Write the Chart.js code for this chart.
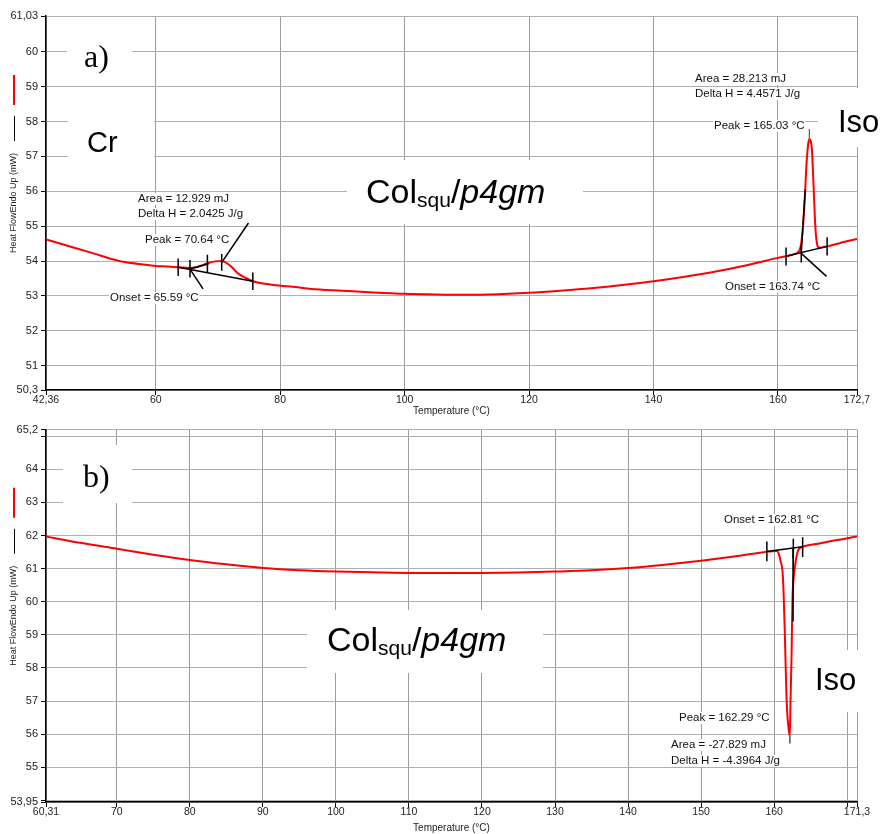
<!DOCTYPE html>
<html><head><meta charset="utf-8">
<script src="https://cdn.jsdelivr.net/npm/chart.js@4.4.1/dist/chart.umd.min.js"></script>
<style>
html,body{margin:0;padding:0;background:#fff;overflow:hidden}
#wrap{position:relative;width:883px;height:834px;background:#fff}
canvas{position:absolute;left:0}
#cA{top:0}
#cB{top:420px}
</style></head><body>
<div id="wrap"><canvas id="cA" width="883" height="420"></canvas><canvas id="cB" width="883" height="414"></canvas></div>
<script>
// ================= DATA: panel a) (heating) =================
const tempA = [42.36, 45, 50, 53.5, 55, 58, 60, 62, 63.6, 65.5, 66.6, 67.5, 68.2, 69.5, 70.64, 71.4, 72.2, 73.0, 73.5, 74.3, 75.6, 77, 80, 82, 85, 90, 95, 100, 105, 110, 115, 120, 125, 130, 135, 140, 145, 150, 155, 160, 161.3, 162.5, 163.2, 163.6, 163.9, 164.1, 164.3, 164.56, 164.85, 165.05, 165.25, 165.46, 165.7, 166.0, 166.3, 166.7, 167.9, 170, 172.7];
const heatA = [54.62, 54.48, 54.22, 54.03, 53.97, 53.90, 53.86, 53.84, 53.82, 53.80, 53.83, 53.88, 53.93, 53.99, 54.00, 53.94, 53.83, 53.68, 53.61, 53.53, 53.42, 53.36, 53.29, 53.26, 53.20, 53.15, 53.10, 53.06, 53.04, 53.03, 53.05, 53.09, 53.15, 53.22, 53.31, 53.42, 53.55, 53.70, 53.88, 54.09, 54.14, 54.19, 54.25, 54.38, 54.75, 55.20, 55.76, 56.71, 57.35, 57.50, 57.45, 57.19, 56.24, 55.00, 54.47, 54.38, 54.42, 54.52, 54.63];
const xTicksA = [42.36, 60, 80, 100, 120, 140, 160, 172.7];
const xTickLabelsA = ['42,36', '60', '80', '100', '120', '140', '160', '172,7'];
const yTicksA = [50.3, 51, 52, 53, 54, 55, 56, 57, 58, 59, 60, 61.03];
const yTickLabelsA = ['50,3', '51', '52', '53', '54', '55', '56', '57', '58', '59', '60', '61,03'];
// analysis lines (black): [T1, V1, T2, V2]
const analysisA = [
  [63.6, 53.82, 75.6, 53.42],
  [63.6, 54.07, 63.6, 53.57],
  [65.5, 54.03, 65.5, 53.53],
  [68.3, 54.18, 68.3, 53.68],
  [70.6, 54.20, 70.6, 53.72],
  [75.6, 53.67, 75.6, 53.17],
  [65.5, 53.77, 68.5, 53.92],
  [65.5, 53.77, 67.6, 53.20],
  [70.64, 53.97, 74.9, 55.09],
  [161.3, 54.14, 167.9, 54.42],
  [161.3, 54.39, 161.3, 53.87],
  [163.74, 54.46, 163.74, 53.96],
  [167.9, 54.68, 167.9, 54.16],
  [163.74, 54.22, 164.38, 56.05],
  [163.74, 54.22, 167.8, 53.56]
];
const peakMarksA = [[165.05, 57.78, 165.05, 57.40]];

// ================= DATA: panel b) (cooling) =================
const tempB = [60.31, 65, 70, 75, 80, 85, 90, 95, 100, 105, 110, 115, 120, 125, 130, 135, 140, 145, 150, 155, 159, 160.3, 160.6, 160.85, 161.2, 161.46, 161.7, 162.05, 162.15, 162.24, 162.37, 162.5, 162.6, 162.83, 163.28, 163.9, 166, 168, 171.34];
const heatB = [61.97, 61.78, 61.60, 61.42, 61.26, 61.13, 61.02, 60.95, 60.91, 60.89, 60.87, 60.87, 60.87, 60.88, 60.91, 60.95, 61.02, 61.12, 61.24, 61.38, 61.51, 61.53, 61.47, 61.25, 60.74, 59.04, 57.04, 56.03, 55.96, 57.04, 58.24, 60.04, 60.54, 61.04, 61.55, 61.66, 61.75, 61.84, 61.97];
const xTicksB = [60.31, 70, 80, 90, 100, 110, 120, 130, 140, 150, 160, 170, 171.34];
const xTickLabelsB = ['60,31', '70', '80', '90', '100', '110', '120', '130', '140', '150', '160', '', '171,3'];
const yTicksB = [53.95, 54, 55, 56, 57, 58, 59, 60, 61, 62, 63, 64, 65, 65.2];
const yTickLabelsB = ['53,95', '', '55', '56', '57', '58', '59', '60', '61', '62', '63', '64', '', '65,2'];
const analysisB = [
  [159.0, 61.52, 163.9, 61.66],
  [159.0, 61.82, 159.0, 61.22],
  [162.62, 61.90, 162.62, 61.30],
  [163.9, 61.95, 163.9, 61.35],
  [162.62, 61.60, 162.58, 59.40]
];
const peakMarksB = [[162.15, 55.96, 162.15, 55.72]];

// ================= RENDERING =================
const SANS = "'Liberation Sans', Arial, sans-serif";
const SERIF = "'Liberation Serif', 'Times New Roman', serif";

const annoPlugin = {
  id: 'dscAnno',
  beforeDatasetsDraw(chart, args, o) {
    const ctx = chart.ctx;
    ctx.save();
    (o.boxes || []).forEach(b => { ctx.fillStyle = '#fff'; ctx.fillRect(b[0], b[1], b[2], b[3]); });
    (o.big || []).forEach(t => {
      ctx.font = t.font; ctx.fillStyle = '#000'; ctx.textBaseline = 'alphabetic'; ctx.textAlign = 'left';
      ctx.fillText(t.text, t.x, t.y);
    });
    (o.rich || []).forEach(r => {
      let x = r.x;
      r.parts.forEach(p => {
        ctx.font = p.font; ctx.fillStyle = '#000'; ctx.textBaseline = 'alphabetic'; ctx.textAlign = 'left';
        ctx.fillText(p.text, x, r.y + (p.dy || 0));
        x += ctx.measureText(p.text).width;
      });
    });
    (o.labels || []).forEach(l => {
      ctx.font = '11.5px ' + SANS;
      const w = ctx.measureText(l.text).width;
      ctx.fillStyle = '#fff';
      ctx.fillRect(l.x - 1, l.y - 6, w + 2, 12);
      ctx.fillStyle = '#111'; ctx.textBaseline = 'middle'; ctx.textAlign = 'left';
      ctx.fillText(l.text, l.x, l.y);
    });
    ctx.restore();
  },
  afterDraw(chart, args, o) {
    const ctx = chart.ctx, ca = chart.chartArea;
    const cy = (ca.top + ca.bottom) / 2;
    ctx.save();
    ctx.font = '9px ' + SANS;
    const w = ctx.measureText('Heat FlowEndo Up (mW)').width;
    const textTop = cy - w / 2;
    const bEnd = textTop - 12, bStart = bEnd - 25;
    const rEnd = bStart - 11, rStart = rEnd - 30;
    ctx.strokeStyle = '#000'; ctx.lineWidth = 1;
    ctx.beginPath(); ctx.moveTo(14.5, bStart); ctx.lineTo(14.5, bEnd); ctx.stroke();
    ctx.strokeStyle = '#ff0000'; ctx.lineWidth = 2;
    ctx.beginPath(); ctx.moveTo(14, rStart); ctx.lineTo(14, rEnd); ctx.stroke();
    ctx.restore();
  }
};

function segDatasets(list, color, width) {
  return list.map(s => ({
    data: [{x: s[0], y: s[1]}, {x: s[2], y: s[3]}],
    borderColor: color, borderWidth: width, pointRadius: 0, fill: false, order: 1, tension: 0
  }));
}

function makeChart(id, temps, heat, segs, marks, xT, xL, yT, yL, padTop, xH, titlePadB, anno) {
  const datasets = [
    ...segDatasets(segs, '#000', 1.5),
    ...segDatasets(marks, '#666', 1),
    {
      data: temps.map((t, i) => ({x: t, y: heat[i]})),
      borderColor: '#ff0000', borderWidth: 2, pointRadius: 0, fill: false,
      cubicInterpolationMode: 'monotone', order: 2
    }
  ];
  return new Chart(document.getElementById(id), {
    type: 'line',
    data: { datasets },
    plugins: [annoPlugin],
    options: {
      responsive: false, animation: false, devicePixelRatio: 1,
      layout: { padding: { left: 0, right: 26, top: padTop, bottom: 0 } },
      plugins: { legend: { display: false }, tooltip: { enabled: false }, dscAnno: anno },
      scales: {
        x: {
          type: 'linear', min: xT[0], max: xT[xT.length - 1],
          afterBuildTicks: s => { s.ticks = xT.map(v => ({ value: v })); },
          afterFit: s => { s.height = xH; },
          ticks: { autoSkip: false, maxRotation: 0, minRotation: 0, padding: -1, color: '#222',
                   font: { family: SANS, size: 10.5 }, callback: (v, i) => xL[i] },
          grid: { color: '#9c9c9c', lineWidth: 1, tickLength: 5, tickColor: '#000' },
          border: { color: '#000', width: 1.5 },
          title: { display: true, text: 'Temperature (°C)', color: '#222',
                   font: { family: SANS, size: 10 }, padding: { top: 0, bottom: titlePadB } }
        },
        y: {
          type: 'linear', min: yT[0], max: yT[yT.length - 1],
          afterBuildTicks: s => { s.ticks = yT.map(v => ({ value: v })); },
          afterFit: s => { s.width = 46; },
          ticks: { autoSkip: false, padding: 3, color: '#222',
                   font: { family: SANS, size: 11 }, callback: (v, i) => yL[i] },
          grid: { color: '#b0b0b0', lineWidth: 1, tickLength: 5, tickColor: '#000' },
          border: { color: '#000', width: 1.5 },
          title: { display: true, text: 'Heat FlowEndo Up (mW)', color: '#222',
                   font: { family: SANS, size: 9 }, padding: { top: 8.6, bottom: 0 } }
        }
      }
    }
  });
}

const colParts = [
  { text: 'Col', font: '34px ' + SANS },
  { text: 'squ', font: '21px ' + SANS, dy: 4 },
  { text: '/', font: '34px ' + SANS },
  { text: 'p4gm', font: 'italic 34px ' + SANS }
];

makeChart('cA', tempA, heatA, analysisA, peakMarksA, xTicksA, xTickLabelsA, yTicksA, yTickLabelsA, 16, 30, 3, {
  boxes: [[67, 25, 65, 58], [68, 110, 86, 55], [347, 160, 236, 64], [818, 88, 65, 59]],
  big: [
    { text: 'a)', x: 84, y: 67, font: '32px ' + SERIF },
    { text: 'Cr', x: 87, y: 152, font: '29px ' + SANS },
    { text: 'Iso', x: 838, y: 132, font: '31px ' + SANS }
  ],
  rich: [{ x: 366, y: 203, parts: colParts }],
  labels: [
    { text: 'Area = 12.929 mJ', x: 138, y: 199 },
    { text: 'Delta H = 2.0425 J/g', x: 138, y: 214 },
    { text: 'Peak = 70.64 °C', x: 145, y: 240 },
    { text: 'Onset = 65.59 °C', x: 110, y: 298 },
    { text: 'Area = 28.213 mJ', x: 695, y: 79 },
    { text: 'Delta H = 4.4571 J/g', x: 695, y: 94 },
    { text: 'Peak = 165.03 °C', x: 714, y: 126 },
    { text: 'Onset = 163.74 °C', x: 725, y: 287 }
  ]
});

makeChart('cB', tempB, heatB, analysisB, peakMarksB, xTicksB, xTickLabelsB, yTicksB, yTickLabelsB, 9, 32, 0, {
  boxes: [[63, 25, 69, 58], [307, 190, 236, 63], [795, 230, 88, 62]],
  big: [
    { text: 'b)', x: 83, y: 67, font: '32px ' + SERIF },
    { text: 'Iso', x: 815, y: 270, font: '31px ' + SANS }
  ],
  rich: [{ x: 327, y: 231, parts: colParts }],
  labels: [
    { text: 'Onset = 162.81 °C', x: 724, y: 100 },
    { text: 'Peak = 162.29 °C', x: 679, y: 298 },
    { text: 'Area = -27.829 mJ', x: 671, y: 325 },
    { text: 'Delta H = -4.3964 J/g', x: 671, y: 341 }
  ]
});
</script>
</body></html>
